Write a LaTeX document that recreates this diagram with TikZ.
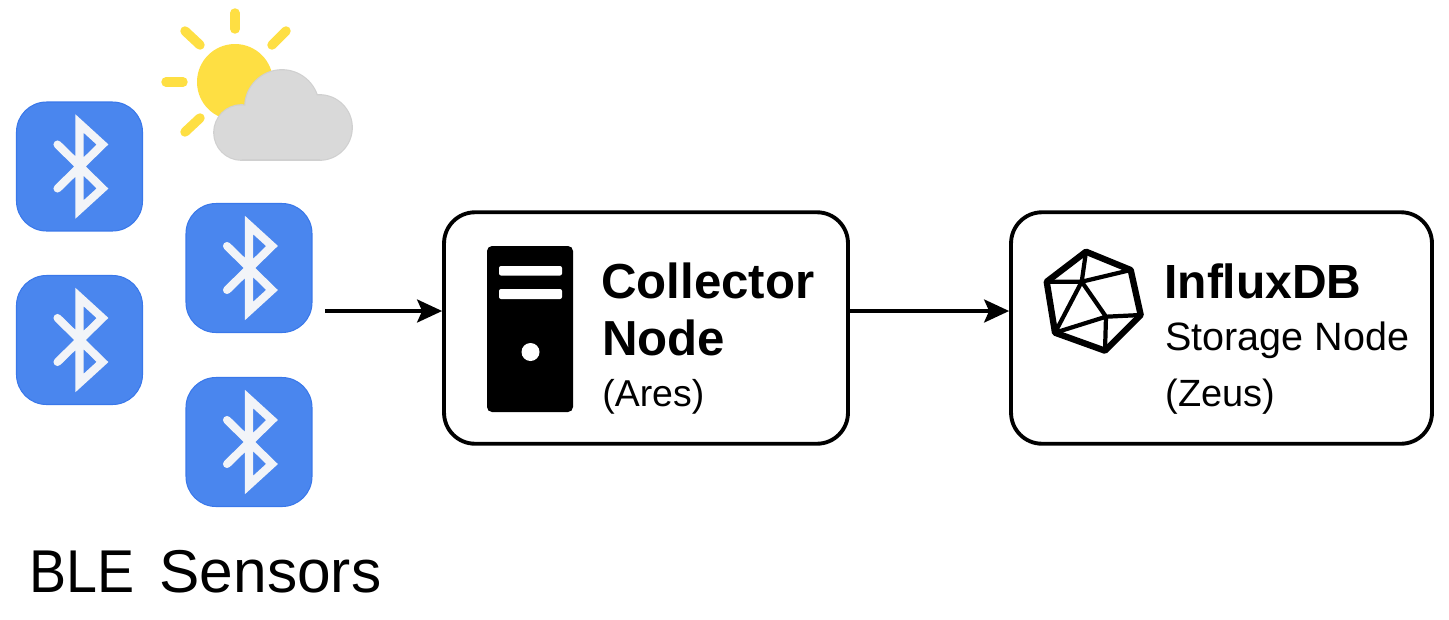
\documentclass[tikz,border=0pt]{standalone}
\usepackage{fontspec}
\setmainfont{Liberation Sans}
\usetikzlibrary{arrows.meta}
\definecolor{btblue}{HTML}{4A86EE}
\definecolor{btedge}{HTML}{3A78EA}
\definecolor{btwhite}{HTML}{F2F4F8}
\definecolor{sunyellow}{HTML}{FEDF43}
\definecolor{cloudgray}{HTML}{D9D9D9}
\definecolor{cloudedge}{HTML}{D0D0D0}
\tikzset{
    sensorbox/.style={draw=btedge,line width=0.6pt,fill=btblue,rounded corners=0.6cm,
        minimum width=2.52cm,minimum height=2.58cm,inner sep=0pt},
    hostbox/.style={draw=black,line width=2.2pt,fill=white,rounded corners=0.62cm,inner sep=0pt},
    flow/.style={line width=2pt,-{Stealth[length=0.5cm,width=0.46cm,inset=0.1cm]}},
    ray/.style={sunyellow,line width=5.4pt,line cap=round},
    boldlabel/.style={anchor=base west,inner sep=0pt,font=\fontsize{#1}{#1}\selectfont\bfseries},
    pluslabel/.style={anchor=base west,inner sep=0pt,font=\fontsize{#1}{#1}\selectfont},
    btglyph/.pic={
        \draw[btwhite,line width=4.6pt,line join=miter,miter limit=10,line cap=round]
            (-22,-22) -- (23,22) -- (0,43) -- (0,-43) -- (23,-22) -- (-22,22);
    }
}
\begin{document}
\begin{tikzpicture}[x=0.02cm,y=-0.02cm]
    \useasboundingbox (0,0) rectangle (1449,619);
    % sun
    \foreach \a/\b/\c/\d in {235/13/235/29,185/31/200/45,286/31/272/45,166/82/183/82,185/132/200/118} {
        \draw[ray] (\a,\b) -- (\c,\d);
    }
    \fill[sunyellow] (235,82) circle (38);
    % cloud
    \draw[cloudedge,line width=1pt,fill=cloudgray] (241.5,132.5) circle (27.5);
    \draw[cloudedge,line width=1pt,fill=cloudgray] (282,107) circle (37);
    \draw[cloudedge,line width=1pt,fill=cloudgray] (319.5,127.5) circle (32.5);
    \fill[cloudgray] (241.5,132.5) circle (27.2);
    \fill[cloudgray] (282,107) circle (36.7);
    \fill[cloudgray] (319.5,127.5) circle (32.2);
    \fill[cloudgray] (241.5,120) rectangle (319.5,159.7);
    \draw[cloudedge,line width=0.6pt] (241.5,160) -- (319.5,160);
    % sensors
    \foreach \name/\x/\y in {sensorA/79.5/166.5,sensorB/79.5/340,sensorC/249/268,sensorD/249/442} {
        \node[sensorbox] (\name) at (\x,\y) {};
        \pic at (\name) {btglyph};
    }
    \node[pluslabel=34.4pt] (blelabel) at (29,592) {{\addfontfeature{FakeStretch=0.92}BLE}\hspace{0.415em}Sensors};
    % hosts
    \node[hostbox,minimum width=8.08cm,minimum height=4.63cm] (collector) at (646,328) {};
    \node[hostbox,minimum width=8.42cm,minimum height=4.63cm] (storage) at (1221.5,328) {};
    % server tower
    \fill[black,rounded corners=0.1cm] (487,246) rectangle (573,412);
    \fill[white,rounded corners=0.04cm] (499,266) rectangle (562,275.5);
    \fill[white,rounded corners=0.04cm] (499,289) rectangle (562,299);
    \fill[white] (530.5,352) circle (9);
    % polyhedron
    \coordinate (ptop) at (1086,251.7);
    \coordinate (pru) at (1130.7,270);
    \coordinate (prl) at (1140.7,315);
    \coordinate (pbot) at (1105,350.7);
    \coordinate (pll) at (1055,332.7);
    \coordinate (plu) at (1046.7,281.7);
    \coordinate (pc) at (1081.7,281.7);
    \coordinate (pm) at (1106,316.7);
    \draw[line width=3.6pt,line join=round] (ptop) -- (pru) -- (prl) -- (pbot) -- (pll) -- (plu) -- cycle;
    \draw[line width=2.4pt,line join=round] (ptop) -- (pc) -- (plu) (pc) -- (pru) (pc) -- (pll) (pc) -- (pm)
        (prl) -- (pm) -- (pll) (pm) -- (pbot);
    % labels
    \node[boldlabel=28pt] (collectorname) at (601,298) {Collector};
    \node[boldlabel=28pt] (collectorrole) at (602,355) {Node};
    \node[pluslabel=21.3pt] (collectorhost) at (602,406) {(Ares)};
    \node[boldlabel=27.3pt] (storagename) at (1164,298) {InfluxDB};
    \node[pluslabel=22.5pt] (storagerole) at (1165,350) {Storage Node};
    \node[pluslabel=21.6pt] (storagehost) at (1165,406) {(Zeus)};
    % flows
    \coordinate (sensorout) at (325,311);
    \draw[flow] (sensorout) -- (sensorout -| collector.west);
    \draw[flow] (sensorout -| collector.east) -- (sensorout -| storage.west);
\end{tikzpicture}
\end{document}
